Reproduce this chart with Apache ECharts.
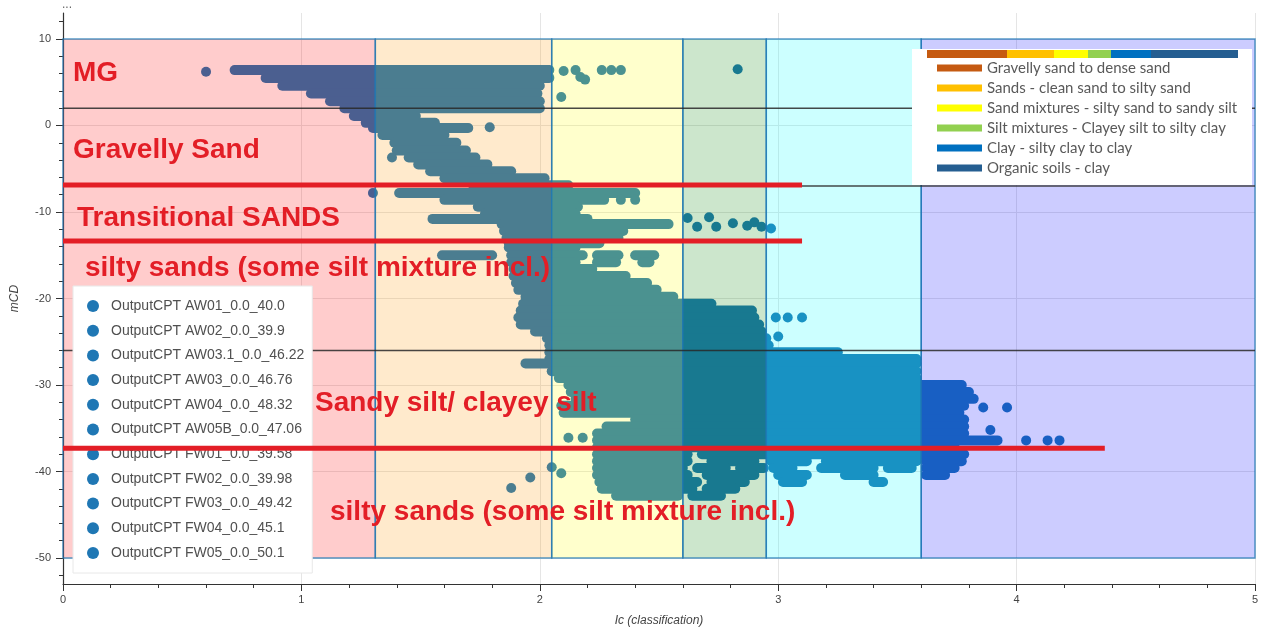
<!DOCTYPE html>
<html lang="en">
<head>
<meta charset="UTF-8">
<title>Ic vs mCD</title>
<script src="https://cdn.jsdelivr.net/npm/echarts@6/dist/echarts.min.js"></script>
<style>html,body{margin:0;padding:0;background:#fff}#main{width:1262px;height:632px}</style>
</head>
<body>
<div id="main"></div>
<script>
// legend names of the CPT traces
var cptNames = [
  'OutputCPT AW01_0.0_40.0', 'OutputCPT AW02_0.0_39.9', 'OutputCPT AW03.1_0.0_46.22',
  'OutputCPT AW03_0.0_46.76', 'OutputCPT AW04_0.0_48.32', 'OutputCPT AW05B_0.0_47.06',
  'OutputCPT FW01_0.0_39.58', 'OutputCPT FW02_0.0_39.98', 'OutputCPT FW03_0.0_49.42',
  'OutputCPT FW04_0.0_45.1', 'OutputCPT FW05_0.0_50.1'
];

// Ic zone edges (Robertson) and the depth span of the zone boxes
var zoneEdges = [0, 1.31, 2.05, 2.6, 2.95, 3.6, 5];
var zoneTop = 10;
var zoneBottom = -50;
var zoneColors = ['rgba(255,0,0,0.2)', 'rgba(255,150,0,0.2)', 'rgba(255,255,0,0.2)',
  'rgba(0,128,0,0.2)', 'rgba(0,255,255,0.2)', 'rgba(0,0,255,0.2)'];

// dense part of the cloud, read row by row: [mCD, Ic from, Ic to]
var cloudRows = [
  [6.4, 0.72, 2.04], [5.5, 0.85, 2.04], [4.6, 0.92, 2.00], [3.7, 1.04, 1.99],
  [2.8, 1.12, 2.00], [2.0, 1.18, 2.00], [1.1, 1.22, 1.48], [0.3, 1.27, 1.56],
  [-0.3, 1.30, 1.70], [-1.1, 1.34, 1.60], [-2.0, 1.39, 1.65], [-2.9, 1.40, 1.69],
  [-3.7, 1.45, 1.73], [-4.5, 1.49, 1.78], [-5.3, 1.54, 1.88], [-6.1, 1.60, 2.02],
  [-6.9, 1.72, 2.12], [-7.8, 1.41, 2.40], [-8.6, 1.60, 2.27], [-9.4, 1.74, 2.16],
  [-10.2, 1.77, 2.15], [-10.8, 1.55, 2.20], [-11.4, 1.84, 2.54], [-12.2, 1.85, 2.35],
  [-13.0, 1.86, 2.33], [-13.6, 1.87, 2.25], [-14.1, 1.87, 2.15],
  [-15.0, 1.59, 1.80], [-15.0, 1.88, 2.18], [-15.0, 2.24, 2.33], [-15.0, 2.40, 2.48],
  [-15.8, 1.88, 2.15], [-15.8, 2.24, 2.32], [-15.8, 2.43, 2.46],
  [-16.6, 1.89, 2.22], [-17.4, 1.89, 2.36], [-18.2, 1.90, 2.45], [-19.0, 1.91, 2.49],
  [-19.8, 1.94, 2.56], [-20.6, 1.93, 2.72], [-21.4, 1.92, 2.89], [-22.2, 1.91, 2.90],
  [-23.0, 1.92, 2.92], [-23.8, 1.98, 2.93], [-24.6, 2.03, 2.95], [-25.4, 2.04, 2.96],
  [-26.2, 2.04, 3.25], [-27.0, 2.04, 3.58], [-27.5, 1.94, 3.58], [-28.4, 2.05, 3.58],
  [-29.2, 2.08, 3.58], [-30.0, 2.12, 3.77], [-30.8, 2.13, 3.80], [-31.6, 2.15, 3.82],
  [-32.4, 2.09, 3.78], [-33.2, 2.10, 3.76], [-34.0, 2.40, 3.78], [-34.8, 2.28, 3.78],
  [-35.6, 2.24, 3.78], [-36.4, 2.24, 3.92], [-37.2, 2.24, 3.74],
  [-38.0, 2.24, 2.62], [-38.0, 2.68, 3.78],
  [-38.8, 2.24, 2.62], [-38.8, 2.72, 2.90], [-38.8, 2.97, 3.12], [-38.8, 3.20, 3.58], [-38.8, 3.62, 3.77],
  [-39.6, 2.24, 2.60], [-39.6, 2.66, 2.78], [-39.6, 2.84, 2.94], [-39.6, 2.98, 3.06],
  [-39.6, 3.18, 3.40], [-39.6, 3.46, 3.56], [-39.6, 3.62, 3.74],
  [-40.4, 2.24, 2.62], [-40.4, 2.70, 2.90], [-40.4, 3.00, 3.12], [-40.4, 3.28, 3.40], [-40.4, 3.62, 3.70],
  [-41.2, 2.25, 2.66], [-41.2, 2.72, 2.86], [-41.2, 3.02, 3.10], [-41.2, 3.40, 3.44],
  [-42.0, 2.26, 2.64], [-42.0, 2.70, 2.82],
  [-42.8, 2.32, 2.58], [-42.8, 2.64, 2.76]
];

// loose points around the cloud: [Ic, mCD]
var loosePoints = [
  [0.60, 6.2], [2.10, 6.3], [2.15, 6.4], [2.17, 5.6], [2.19, 5.3], [2.26, 6.4], [2.30, 6.4],
  [2.34, 6.4], [2.09, 3.3], [2.83, 6.5], [1.79, -0.2], [1.38, -3.7], [1.30, -7.8],
  [2.34, -8.6], [2.40, -8.6], [2.62, -10.7], [2.66, -11.7], [2.71, -10.6], [2.74, -11.7],
  [2.81, -11.3], [2.87, -11.6], [2.90, -11.2], [2.93, -11.7], [2.97, -11.9],
  [2.99, -22.2], [3.04, -22.2], [3.10, -22.2], [3.00, -24.4],
  [3.86, -32.6], [3.96, -32.6], [3.89, -35.2], [2.12, -36.1], [2.18, -36.1],
  [4.04, -36.4], [4.13, -36.4], [4.18, -36.4],
  [1.88, -41.9], [1.96, -40.7], [2.05, -39.5], [2.09, -40.2]
];

// layer boundaries (mCD) and the red interpretation lines [mCD, Ic from, Ic to]
var dividerDepths = [2, -7, -26];
var redLines = [[-6.88, 0, 3.1], [-13.35, 0, 3.1], [-37.3, 0, 4.37]];

// notes written on the plot: [Ic, mCD, text]
var notes = [
  [0.042, 6.06, 'MG'],
  [0.042, -2.84, 'Gravelly Sand'],
  [0.059, -10.7, 'Transitional SANDS'],
  [0.092, -16.48, 'silty sands (some silt mixture incl.)'],
  [1.057, -32.08, 'Sandy silt/ clayey silt'],
  [1.12, -44.68, 'silty sands (some silt mixture incl.)']
];

// soil behaviour key pasted at the top right
var soilClasses = ['Gravelly sand to dense sand', 'Sands - clean sand to silty sand',
  'Sand mixtures - silty sand to sandy silt', 'Silt mixtures - Clayey silt to silty clay',
  'Clay - silty clay to clay', 'Organic soils - clay'];
var soilColors = ['#c55a11', '#ffc000', '#ffff00', '#92d050', '#0070c0', '#255e91'];

var dotColor = '#1f77b4';
var axisColor = '#444';
var noteColor = '#e31e26';

function soilKey() {
  var stripW = [80, 47, 34, 23, 40, 87];
  var kids = [{type: 'rect', z: 6, shape: {x: 0, y: 0, width: 340, height: 136}, style: {fill: '#fff'}}];
  var x = 15;
  stripW.forEach(function (w, i) {
    kids.push({type: 'rect', z: 6, shape: {x: x, y: 1, width: w, height: 8}, style: {fill: soilColors[i]}});
    x += w;
  });
  soilClasses.forEach(function (txt, i) {
    kids.push({type: 'rect', z: 6, shape: {x: 25, y: 15.5 + 20 * i, width: 45, height: 7}, style: {fill: soilColors[i]}});
    kids.push({type: 'text', z: 6, x: 75, y: 19 + 20 * i, style: {text: txt, fill: '#595959',
      fontSize: 15, fontFamily: 'Lato', verticalAlign: 'middle'}});
  });
  return {type: 'group', left: 912, top: 49, children: kids};
}

var series = [];

// the CPT traces (legend entries)
cptNames.forEach(function (n) {
  series.push({name: n, type: 'scatter', data: [], itemStyle: {color: dotColor, opacity: 1}});
});

series.push({
  name: 'cloud', type: 'custom', z: 2, silent: true,
  data: cloudRows,
  renderItem: function (params, api) {
    var a = api.coord([api.value(1), api.value(0)]);
    var b = api.coord([api.value(2), api.value(0)]);
    return {type: 'line', shape: {x1: a[0], y1: a[1], x2: b[0], y2: b[1]},
      style: {stroke: dotColor, lineWidth: 10, lineCap: 'round'}};
  }
});

series.push({
  name: 'loose', type: 'scatter', z: 2, silent: true, symbolSize: 10,
  data: loosePoints, itemStyle: {color: dotColor, opacity: 1}
});

// zone boxes sit over the dots, like in the original
var zones = [];
for (var i = 0; i < zoneEdges.length - 1; i++) zones.push([zoneEdges[i], zoneEdges[i + 1]]);
series.push({
  name: 'zones', type: 'custom', z: 3, silent: true,
  data: zones,
  renderItem: function (params, api) {
    var p0 = api.coord([api.value(0), zoneTop]);
    var p1 = api.coord([api.value(1), zoneBottom]);
    return {type: 'rect', shape: {x: p0[0], y: p0[1], width: p1[0] - p0[0], height: p1[1] - p0[1]},
      style: {fill: zoneColors[params.dataIndex], stroke: 'rgba(31,119,180,0.75)', lineWidth: 1.5}};
  }
});

dividerDepths.forEach(function (d) {
  series.push({type: 'line', z: 4, silent: true, symbol: 'none', data: [[0, d], [5, d]],
    lineStyle: {color: 'rgba(40,40,40,0.85)', width: 1.5}});
});

redLines.forEach(function (r) {
  series.push({type: 'line', z: 10, silent: true, symbol: 'none', data: [[r[1], r[0]], [r[2], r[0]]],
    lineStyle: {color: noteColor, width: 5}});
});

series.push({
  type: 'scatter', z: 11, silent: true, symbolSize: 0, itemStyle: {opacity: 1},
  data: notes.map(function (n) { return {value: [n[0], n[1]], label: {formatter: n[2]}}; }),
  label: {show: true, position: 'right', distance: 0, color: noteColor,
    fontSize: 28, fontWeight: 'bold', fontFamily: 'Liberation Sans'}
});

var chart = echarts.init(document.getElementById('main'));
chart.setOption({
  animation: false,
  textStyle: {fontFamily: 'Liberation Sans'},
  grid: [
    {left: 63, right: 7, top: 13, bottom: 48},
    {left: 63, right: 7, top: 38.95, bottom: 73.95},
    {left: 63, right: 7, top: 21.65, bottom: 56.65}
  ],
  xAxis: [
    {gridIndex: 0, type: 'value', min: 0, max: 5, interval: 1,
      name: 'Ic (classification)', nameLocation: 'middle', nameGap: 31,
      nameTextStyle: {fontStyle: 'italic', fontSize: 12, color: axisColor},
      axisLine: {onZero: false, lineStyle: {color: '#333', width: 1.2}},
      axisTick: {length: 7, lineStyle: {color: '#333'}},
      minorTick: {show: true, splitNumber: 5, length: 4, lineStyle: {color: '#333'}},
      axisLabel: {fontSize: 11, color: axisColor, margin: 10},
      splitLine: {show: true, lineStyle: {color: '#e5e5e5'}}},
    {gridIndex: 1, type: 'value', min: 0, max: 5, show: false},
    {gridIndex: 2, type: 'value', min: 0, max: 5, show: false}
  ],
  yAxis: [
    {gridIndex: 0, type: 'value', min: -53, max: 13,
      name: 'mCD', nameLocation: 'middle', nameGap: 42,
      nameTextStyle: {fontStyle: 'italic', fontSize: 12, color: axisColor},
      axisLine: {show: true, onZero: false, lineStyle: {color: '#333', width: 1.2}},
      axisTick: {show: false}, axisLabel: {show: false}, splitLine: {show: false}},
    {gridIndex: 1, type: 'value', min: -50, max: 10, interval: 10,
      axisLine: {show: false},
      axisTick: {show: true, length: 7, lineStyle: {color: '#333'}},
      axisLabel: {fontSize: 11, color: axisColor, margin: 12},
      splitLine: {show: true, lineStyle: {color: '#e5e5e5'}}},
    {gridIndex: 2, type: 'value', min: -52, max: 12, interval: 2,
      axisLine: {show: false},
      axisTick: {show: true, length: 4, lineStyle: {color: '#333'}},
      axisLabel: {show: false}, splitLine: {show: false}}
  ],
  legend: {
    data: cptNames, orient: 'vertical', left: 73, top: 286, z: 5,
    padding: [13, 8, 13, 14], itemGap: 10.7, itemWidth: 26, itemHeight: 12, icon: 'circle',
    backgroundColor: '#fff', borderColor: '#e8e8e8', borderWidth: 1,
    selectedMode: false,
    textStyle: {fontSize: 14, color: '#505050', fontFamily: 'Liberation Sans'}
  },
  graphic: [
    soilKey(),
    {type: 'text', left: 62, top: -1, z: 6, style: {text: '...', fontSize: 12, fill: '#666'}}
  ],
  series: series
});
</script>
</body>
</html>
